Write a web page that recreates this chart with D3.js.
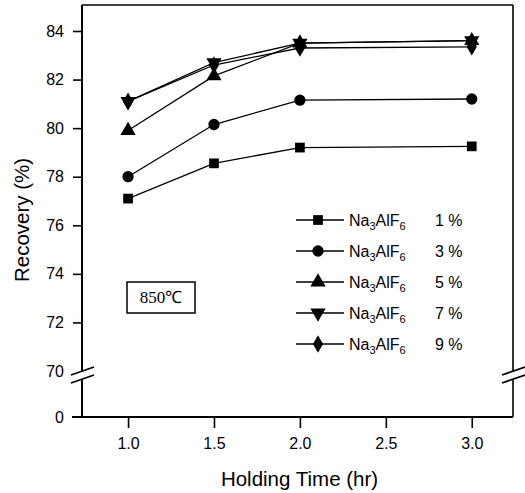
<!DOCTYPE html>
<html>
<head>
<meta charset="utf-8">
<script src="https://cdn.jsdelivr.net/npm/d3@7"></script>
<style>
  body { margin: 0; background: #fff; }
  svg { font-family: 'Liberation Sans', Arial, sans-serif; }
</style>
</head>
<body>
<svg id="chart" width="525" height="493"></svg>
<script>
'use strict';

// holding time (hr)
let hours = [1.0, 1.5, 2.0, 3.0];
// Na3AlF6 addition (%)
let additions = ['1', '3', '5', '7', '9'];
// recovery (%) per series
let rec1 = [77.1, 78.55, 79.2, 79.25];
let rec3 = [78.0, 80.15, 81.15, 81.2];
let rec5 = [79.9, 82.15, 83.5, 83.6];
let rec7 = [81.1, 82.7, 83.5, 83.6];
let rec9 = [81.1, 82.6, 83.3, 83.35];
let xTicks = [1.0, 1.5, 2.0, 2.5, 3.0];
let yTicks = [0, 70, 72, 74, 76, 78, 80, 82, 84];

let series = [rec1, rec3, rec5, rec7, rec9];
let shapes = [d3.symbolSquare, d3.symbolCircle, d3.symbolTriangle, d3.symbolTriangle, d3.symbolDiamond];
let sizes = [95, 100, 100, 100, 90];
let rotations = [0, 0, 0, 180, 0];

let svg = d3.select('#chart');

let plotLeft = 82, plotRight = 513, plotTop = 5, plotBottom = 417;

let x = d3.scaleLinear().domain([0.732, 3.24]).range([plotLeft, plotRight]);
// broken axis: 0 sits one step below 70
let y = d3.scaleLinear().domain([0, 70, 84]).range([plotBottom, 371, 31]);

// axes (ticks and labels only, frame drawn by hand)
let yAxis = svg.append('g')
    .attr('transform', 'translate(' + plotLeft + ',0)')
    .call(d3.axisLeft(y).tickValues(yTicks).tickSize(9).tickPadding(9).tickFormat(d3.format('d')));
yAxis.select('.domain').remove();
yAxis.selectAll('text').attr('font-size', 16).attr('fill', '#000');
yAxis.selectAll('line').attr('stroke', '#000').attr('stroke-width', 1.6);
yAxis.selectAll('.tick').filter(d => d === 0 || d === 70).select('line').remove();

let xAxis = svg.append('g')
    .attr('transform', 'translate(0,' + plotBottom + ')')
    .call(d3.axisBottom(x).tickValues(xTicks).tickSize(11).tickPadding(10).tickFormat(d3.format('.1f')));
xAxis.select('.domain').remove();
xAxis.selectAll('text').attr('font-size', 16).attr('fill', '#000');
xAxis.selectAll('line').attr('stroke', '#000').attr('stroke-width', 1.6);

// frame
let frame = svg.append('g').attr('stroke', '#000').attr('fill', 'none');
frame.append('line').attr('x1', plotLeft).attr('x2', plotRight).attr('y1', plotTop).attr('y2', plotTop).attr('stroke-width', 1.5);
frame.append('line').attr('x1', plotLeft - 10).attr('x2', plotRight).attr('y1', plotBottom).attr('y2', plotBottom).attr('stroke-width', 2);
frame.append('line').attr('x1', plotLeft).attr('x2', plotLeft).attr('y1', plotTop).attr('y2', plotBottom).attr('stroke-width', 2);
frame.append('line').attr('x1', plotRight).attr('x2', plotRight).attr('y1', plotTop).attr('y2', plotBottom).attr('stroke-width', 1.6);

// axis breaks
[plotLeft, plotRight].forEach(function(cx) {
    svg.append('rect')
        .attr('x', cx - 3).attr('y', y(70) + 1)
        .attr('width', 6).attr('height', 7)
        .attr('fill', '#fff');
    [y(70), y(70) + 8].forEach(function(cy) {
        svg.append('line')
            .attr('x1', cx - 11).attr('y1', cy + 4)
            .attr('x2', cx + 12).attr('y2', cy - 4)
            .attr('stroke', '#000').attr('stroke-width', 1.8);
    });
});

// axis titles
svg.append('text')
    .attr('x', (plotLeft + plotRight) / 2 + 2).attr('y', 486)
    .attr('text-anchor', 'middle')
    .attr('font-size', 20.5)
    .text('Holding Time (hr)');

svg.append('text')
    .attr('transform', 'translate(29,220) rotate(-90)')
    .attr('text-anchor', 'middle')
    .attr('font-size', 20.5)
    .text('Recovery (%)');

// series
let line = d3.line().x((d, i) => x(hours[i])).y(d => y(d));

series.forEach(function(vals, k) {
    svg.append('path')
        .datum(vals)
        .attr('d', line)
        .attr('fill', 'none')
        .attr('stroke', '#000')
        .attr('stroke-width', 1.3);
    svg.selectAll(null)
        .data(vals)
        .enter()
        .append('path')
        .attr('d', d3.symbol().type(shapes[k]).size(sizes[k]))
        .attr('transform', (d, i) => 'translate(' + x(hours[i]) + ',' + y(d) + ') rotate(' + rotations[k] + ')')
        .attr('fill', '#000');
});

// legend
let legend = svg.append('g').attr('transform', 'translate(296,220)');
additions.forEach(function(a, k) {
    let g = legend.append('g').attr('transform', 'translate(0,' + (k * 31) + ')');
    g.append('line')
        .attr('x1', 0).attr('x2', 48).attr('y1', 0).attr('y2', 0)
        .attr('stroke', '#000').attr('stroke-width', 1.3);
    g.append('path')
        .attr('d', d3.symbol().type(shapes[k]).size(sizes[k]))
        .attr('transform', 'translate(22,0) rotate(' + rotations[k] + ')')
        .attr('fill', '#000');
    let t = g.append('text')
        .attr('x', 53).attr('y', 6)
        .attr('font-size', 16);
    t.append('tspan').text('Na');
    t.append('tspan').attr('font-size', 11).attr('dy', 4).text('3');
    t.append('tspan').attr('dy', -4).text('AlF');
    t.append('tspan').attr('font-size', 11).attr('dy', 4).text('6');
    g.append('text')
        .attr('x', 139).attr('y', 6)
        .attr('font-size', 16)
        .text(a + ' %');
});

// temperature box
svg.append('rect')
    .attr('x', 127).attr('y', 282)
    .attr('width', 68).attr('height', 31)
    .attr('fill', '#fff')
    .attr('stroke', '#000')
    .attr('stroke-width', 1.5);
svg.append('text')
    .attr('x', 161).attr('y', 303)
    .attr('text-anchor', 'middle')
    .attr('font-family', "'Liberation Serif', 'Times New Roman', serif")
    .attr('font-size', 17)
    .text('850℃');
</script>
</body>
</html>
